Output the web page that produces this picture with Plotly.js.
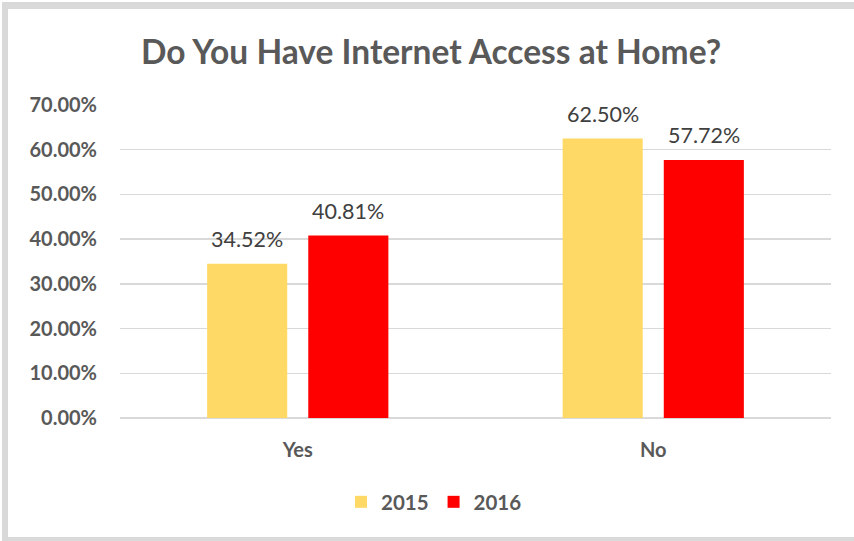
<!DOCTYPE html>
<html>
<head>
<meta charset="utf-8">
<script src="https://cdn.plot.ly/plotly-3.0.1.min.js"></script>
<style>
  html, body { margin: 0; padding: 0; }
  #frame { position: absolute; left: 0; top: 0; width: 854px; height: 541px; background: #ffffff; }
  #border { position: absolute; left: 2px; top: 2px; width: 852px; height: 539px; background: #D9D9D9; }
  #chart { position: absolute; left: 8px; top: 9px; width: 846px; height: 528px; background: #ffffff; }
</style>
</head>
<body>
<div id="frame"><div id="border"></div><div id="chart"></div></div>
<script>
const categories = ["Yes", "No"];
const seriesNames = ["2015", "2016"];
const values2015 = [0.3452, 0.6250];
const values2016 = [0.4081, 0.5772];
const yTickVals = [0, 0.1, 0.2, 0.3, 0.4, 0.5, 0.6, 0.7];

const colors = ["#FFD966", "#FF0000"];
const seriesValues = [values2015, values2016];
const fontFamily = "Lato, 'Open Sans', sans-serif";
const gray = "#595959";

const traces = seriesValues.map((vals, i) => ({
  type: "bar",
  name: seriesNames[i],
  x: categories,
  y: vals,
  marker: { color: colors[i] },
  hoverinfo: "skip"
}));

const shifts = [-50.5, 50.5];
const annotations = [];
seriesValues.forEach((vals, i) => {
  vals.forEach((v, j) => {
    annotations.push({
      x: categories[j], y: v, xref: "x", yref: "y",
      text: (v * 100).toFixed(2) + "%",
      showarrow: false, xanchor: "center", yanchor: "bottom",
      xshift: shifts[i], yshift: 10,
      font: { family: fontFamily, size: 21.5, color: "#404040" }
    });
  });
});

const layout = {
  width: 846, height: 528,
  margin: { l: 112, r: 23, t: 96, b: 119 },
  paper_bgcolor: "#ffffff", plot_bgcolor: "#ffffff",
  title: {
    text: "<b>Do You Have Internet Access at Home?</b>",
    font: { family: fontFamily, size: 33.5, color: gray },
    xref: "container", yref: "container",
    x: 0.5, xanchor: "center", y: 1 - 43 / 528, yanchor: "middle"
  },
  barmode: "group",
  bargap: 0.431,
  bargroupgap: 0.208,
  xaxis: {
    tickfont: { family: fontFamily, size: 20, color: gray, weight: "bold" },
    ticklabelstandoff: 18,
    showgrid: false, showline: false, zeroline: false
  },
  yaxis: {
    range: [0, 0.7],
    tickvals: yTickVals,
    tickformat: ".2%",
    tickfont: { family: fontFamily, size: 20, color: gray, weight: "bold" },
    ticklabelstandoff: 22,
    showgrid: true, gridcolor: "#D9D9D9", gridwidth: 1.5,
    zeroline: true, zerolinecolor: "#D9D9D9", zerolinewidth: 1.5,
    showline: false
  },
  showlegend: true,
  legend: {
    orientation: "h",
    xref: "container", yref: "container",
    x: 426 / 846, xanchor: "center",
    y: 1 - 493 / 528, yanchor: "middle",
    font: { family: fontFamily, size: 20.5, color: gray, weight: "bold" },
    itemwidth: 30,
    traceorder: "normal"
  },
  annotations: annotations
};

Plotly.newPlot("chart", traces, layout, { displayModeBar: false, staticPlot: true });
</script>
</body>
</html>
